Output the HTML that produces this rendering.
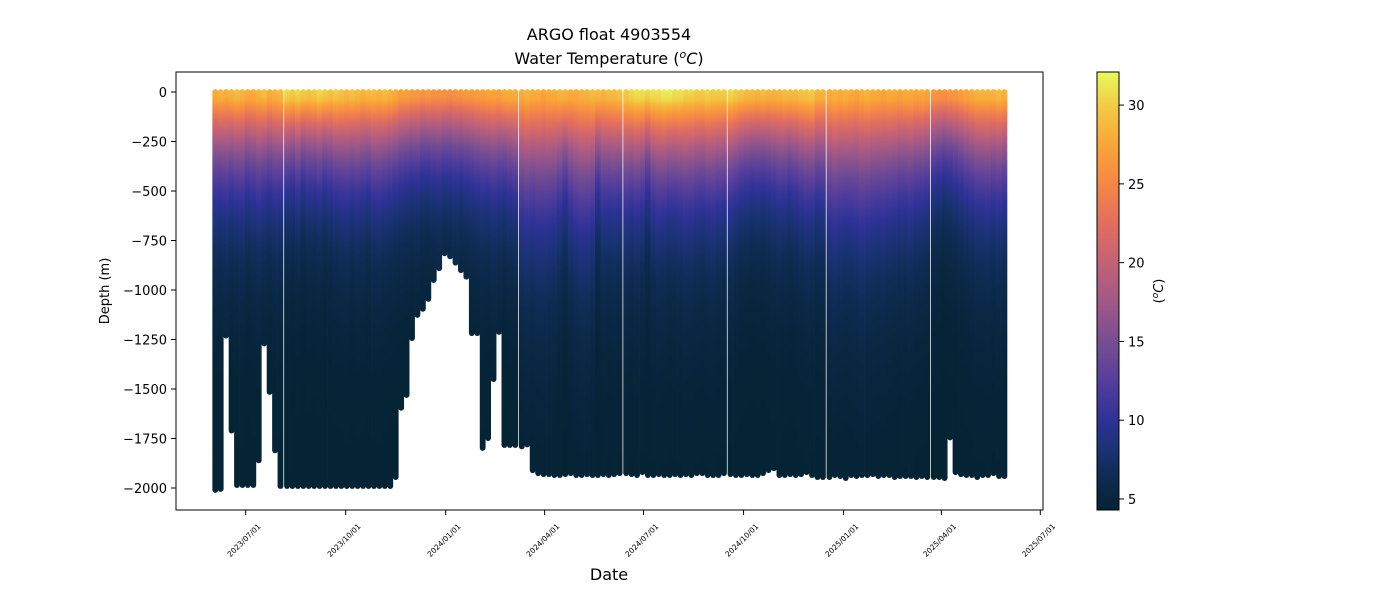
<!DOCTYPE html>
<html><head><meta charset="utf-8">
<style>
html,body{margin:0;padding:0;background:#fff;}
svg{display:block;font-family:"DejaVu Sans","Liberation Sans",sans-serif;}
</style></head>
<body>
<svg id="chart" width="1400" height="600" viewBox="0 0 1400 600" xmlns="http://www.w3.org/2000/svg">
<defs id="defs"></defs>
<text x="609" y="40" font-size="16" text-anchor="middle" fill="#000">ARGO float 4903554</text>
<text x="609" y="64" font-size="16" text-anchor="middle" fill="#000">Water Temperature (<tspan font-style="italic" font-size="11" dy="-6">o</tspan><tspan font-style="italic" dy="6">C</tspan>)</text>
<g id="profiles"></g>
<rect x="176" y="72" width="867" height="438" fill="none" stroke="#000" stroke-width="1"/>
<g id="yaxis"></g>
<g id="xaxis"></g>
<text transform="translate(109,291) rotate(-90)" font-size="13" text-anchor="middle">Depth (m)</text>
<text x="609" y="580" font-size="16" text-anchor="middle">Date</text>
<g id="cbar"></g>
<text transform="translate(1163,291) rotate(-90)" font-size="13" text-anchor="middle">(<tspan font-style="italic" font-size="9" dy="-5">o</tspan><tspan font-style="italic" dy="5">C</tspan>)</text>
</svg>
<script>
// ---- data ----
const profileDays = [-28,-23,-18,-13,-8,-3,2,7,12,17,22,27,32,
38,43,48,53,58,63,68,73,78,83,88,93,98,103,108,113,118,123,128,133,138,143,148,153,158,163,168,173,178,183,188,193,198,203,208,213,218,223,228,233,238,243,248,
254,259,264,269,274,279,284,289,294,299,304,309,314,319,324,329,334,339,344,
350,355,360,365,370,375,380,385,390,395,400,405,410,415,420,425,430,435,440,
446,451,456,461,466,471,476,481,486,491,496,501,506,511,516,521,526,531,
537,542,547,552,557,562,567,572,577,582,587,592,597,602,607,612,617,622,627,
633,638,643,648,653,658,663,668,673,678,683,688,693,698];
const maxDepth = [2010,2005,1230,1710,1985,1985,1985,1985,1860,1270,1515,1810,1990,
1990,1990,1990,1990,1990,1990,1990,1990,1990,1990,1990,1990,1990,1990,1990,1990,1990,1990,1990,1990,
1945,1595,1530,1243,1126,1095,1045,950,890,815,830,862,900,933,1218,1218,1798,1748,1450,1212,1783,1783,1783,
1790,1780,1910,1925,1930,1930,1935,1935,1930,1925,1935,1935,1930,1935,1935,1930,1935,1930,1925,
1925,1930,1935,1920,1935,1935,1930,1935,1935,1930,1935,1930,1935,1925,1925,1935,1935,1935,1925,
1930,1935,1935,1930,1935,1935,1925,1910,1900,1935,1935,1930,1935,1930,1920,1935,1945,1945,
1945,1935,1940,1950,1935,1940,1935,1935,1930,1940,1935,1935,1945,1940,1940,1940,1945,1940,1945,
1945,1945,1950,1745,1920,1930,1935,1935,1945,1935,1935,1925,1940,1940];
const surfaceTemp = [28,28.5,28,28.5,29,28.5,28,28,28.5,29,28,28.5,29,
30.5,30,30.5,30,29.5,30,30.5,30,29.5,30,
29.5,29,29.5,29,28.5,29,29,28.5,29,28.5,28,
27,27,26.5,26.5,26,26.5,26,26,26,25.5,26,26,26.5,26.5,
27,27,27.5,27.5,27,28,28,28,
28,28.5,28,28,27.5,28,28,28.5,28.5,28,28,28.5,28.5,29,29,28.5,29,29,29.5,
30,30.5,31,31,30.5,31,31,31.5,31.5,31,31,30.5,30.5,30,30,30.5,30,30,30,
30.5,30,29.5,29,29,28.5,29,28.5,28.5,28.5,29,29,29,29.5,29.5,30,28.5,28.5,
28,28.5,28,28.5,28,27.5,28,28.5,28,28,27.5,28,28,27.5,28,28,27.5,28,27.5,
26.5,26,26,26.5,26.5,27,27.5,28,28.5,28.5,28.5,28.5,29,28.5];
const thermoScale = [390,380,400,370,380,390,360,380,400,370,360,380,370,
335,325,350,315,345,335,350,325,345,360,
370,385,360,380,370,350,380,385,370,360,350,
345,335,325,335,315,310,325,335,315,325,335,325,335,345,
350,370,360,380,370,350,370,385,
460,475,465,485,490,475,460,420,370,440,475,490,485,460,350,420,405,415,395,
415,395,405,385,335,395,415,405,385,395,405,420,415,405,395,405,415,395,385,
385,370,350,345,335,345,335,350,360,380,370,350,370,385,405,395,380,385,
460,475,465,450,460,475,485,465,460,450,460,440,430,420,415,420,405,395,385,
335,325,310,315,335,350,370,385,405,405,415,395,405,385];
const yTicks = [0,-250,-500,-750,-1000,-1250,-1500,-1750,-2000];
const xTickLabels = ["2023/07/01","2023/10/01","2024/01/01","2024/04/01","2024/07/01","2024/10/01","2025/01/01","2025/04/01","2025/07/01"];
const xTickDays = [0,92,184,275,366,458,550,640,731];
const cbarTicks = [5,10,15,20,25,30];

// ---- scales ----
const NS="http://www.w3.org/2000/svg";
const xOf = d => 245.7 + d*1.087;
const yOf = depth => 92 + depth*0.198; // depth positive metres
const TMIN=4.3, TMAX=32.1, TDEEP=4.3;
const cmT=[4.3,6.5,8,10,12.5,15,17.5,20,22.5,25,27.5,30,32.1];
const cmC=[[4,35,51],[14,44,84],[25,50,115],[45,50,150],[85,62,155],[120,78,145],[160,88,135],[195,98,118],[225,110,95],[245,135,70],[250,165,55],[240,205,70],[232,250,91]];
function cmap(t){
  t=Math.max(TMIN,Math.min(TMAX,t));
  for(let i=0;i<cmT.length-1;i++){
    if(t<=cmT[i+1]){const f=(t-cmT[i])/(cmT[i+1]-cmT[i]);
      const c=cmC[i].map((v,k)=>Math.round(v+(cmC[i+1][k]-v)*f));
      return `rgb(${c[0]},${c[1]},${c[2]})`;}
  }
  return 'rgb(232,250,91)';
}
function tempAt(z,ts,h){
  const zz=Math.max(0,z-20);
  return TDEEP+(ts-TDEEP)*Math.exp(-Math.pow(zz/h,1.1));
}
const defs=document.getElementById('defs');
const gP=document.getElementById('profiles');
for(let i=0;i<profileDays.length;i++){
  const cx=xOf(profileDays[i]);
  const md=maxDepth[i];
  const g=document.createElementNS(NS,'linearGradient');
  g.setAttribute('id','pg'+i);
  g.setAttribute('gradientUnits','userSpaceOnUse');
  g.setAttribute('x1','0');g.setAttribute('x2','0');
  g.setAttribute('y1',yOf(0));g.setAttribute('y2',yOf(md));
  for(let z=0;z<=md;z+=Math.max(10,md/60)){
    const s=document.createElementNS(NS,'stop');
    s.setAttribute('offset',(z/md).toFixed(4));
    s.setAttribute('stop-color',cmap(tempAt(z,surfaceTemp[i],thermoScale[i])));
    g.appendChild(s);
  }
  defs.appendChild(g);
  const r=document.createElementNS(NS,'rect');
  
  
  r.setAttribute('x',(cx-2.9).toFixed(2));
  r.setAttribute('width','5.8');
  r.setAttribute('y',(yOf(0)-2.9).toFixed(2));
  r.setAttribute('height',(yOf(md)-yOf(0)+5.8).toFixed(2));
  r.setAttribute('rx','2.9');
  r.setAttribute('fill','url(#pg'+i+')');
  gP.appendChild(r);
}
// y axis
const ya=document.getElementById('yaxis');
yTicks.forEach(v=>{
  const y=yOf(-v);
  const l=document.createElementNS(NS,'line');
  
  
  l.setAttribute('x1',171);l.setAttribute('x2',176);l.setAttribute('y1',y);l.setAttribute('y2',y);l.setAttribute('stroke','#000');
  ya.appendChild(l);
  const t=document.createElementNS(NS,'text');
  
  
  t.setAttribute('x',167);t.setAttribute('y',y+5);t.setAttribute('font-size','13');t.setAttribute('text-anchor','end');
  t.textContent=(v<0?'\u2212'+(-v):String(v));
  ya.appendChild(t);
});
// x axis
const xa=document.getElementById('xaxis');
xTickDays.forEach((d,i)=>{
  const x=xOf(d);
  const l=document.createElementNS(NS,'line');
  
  
  l.setAttribute('x1',x);l.setAttribute('x2',x);l.setAttribute('y1',510);l.setAttribute('y2',515);l.setAttribute('stroke','#000');
  xa.appendChild(l);
  const t=document.createElementNS(NS,'text');
  
  
  t.setAttribute('transform',`translate(${x-2},${540}) rotate(-45)`);
  t.setAttribute('font-size','7.5');t.setAttribute('text-anchor','middle');t.setAttribute('dy','3');
  t.textContent=xTickLabels[i];
  xa.appendChild(t);
});
// colorbar
const cb=document.getElementById('cbar');
const cg=document.createElementNS(NS,'linearGradient');
cg.setAttribute('id','cbg');cg.setAttribute('x1','0');cg.setAttribute('x2','0');cg.setAttribute('y1','1');cg.setAttribute('y2','0');
for(let k=0;k<=40;k++){
  const t=TMIN+(TMAX-TMIN)*k/40;
  const s=document.createElementNS(NS,'stop');
  s.setAttribute('offset',k/40);s.setAttribute('stop-color',cmap(t));cg.appendChild(s);
}
defs.appendChild(cg);
const cr=document.createElementNS(NS,'rect');


cr.setAttribute('x',1097);cr.setAttribute('y',72);cr.setAttribute('width',22);cr.setAttribute('height',438);
cr.setAttribute('fill','url(#cbg)');cr.setAttribute('stroke','#000');cr.setAttribute('stroke-width','1');
cb.appendChild(cr);
const cbY=t=>510-(t-TMIN)/(TMAX-TMIN)*438;
cbarTicks.forEach(v=>{
  const y=cbY(v);
  const l=document.createElementNS(NS,'line');
  
  
  l.setAttribute('x1',1119);l.setAttribute('x2',1124);l.setAttribute('y1',y);l.setAttribute('y2',y);l.setAttribute('stroke','#000');
  cb.appendChild(l);
  const t=document.createElementNS(NS,'text');
  
  
  t.setAttribute('x',1128);t.setAttribute('y',y+5);t.setAttribute('font-size','13');
  t.textContent=v;
  cb.appendChild(t);
});
</script>
</body></html>
